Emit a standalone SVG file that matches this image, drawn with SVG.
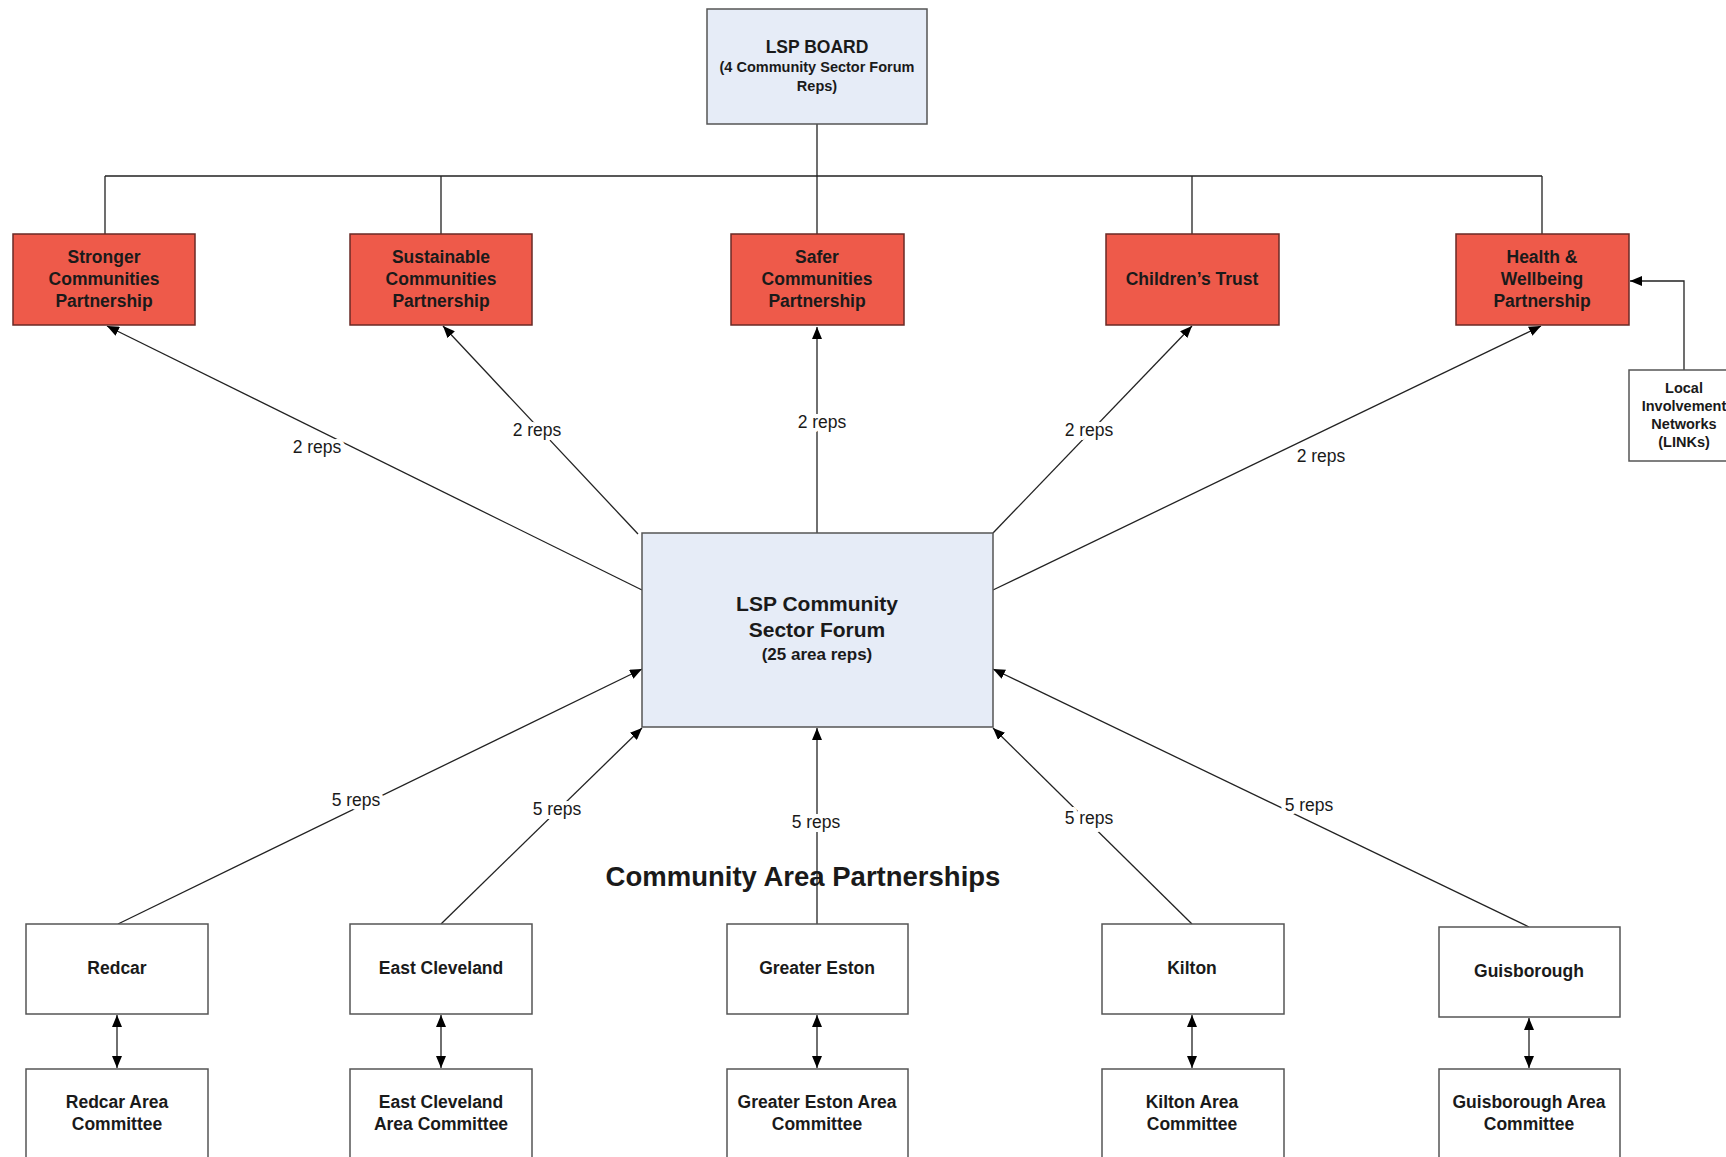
<svg xmlns="http://www.w3.org/2000/svg" width="1726" height="1157" viewBox="0 0 1726 1157">
<style>
.box{stroke:#555;stroke-width:1.5}
.blue{fill:#E6ECF7}
.red{fill:#EE5A4A;stroke:#6a2a26}
.white{fill:#fff}
text{font-family:"Liberation Sans",Arial,sans-serif;fill:#1a1a1a;text-anchor:middle}
.b{font-weight:bold;font-size:17.5px}
.s{font-weight:bold;font-size:14.5px}
.lbl{font-size:17.5px;stroke:#fff;stroke-width:8px;paint-order:stroke;stroke-linejoin:round}
.ln{stroke:#222;stroke-width:1.3;fill:none}
.arr{marker-end:url(#ah)}
.dbl{marker-end:url(#ah);marker-start:url(#ahs)}
</style>
<defs>
<marker id="ah" viewBox="0 0 12 10" refX="12" refY="5" markerWidth="12" markerHeight="10" markerUnits="userSpaceOnUse" orient="auto"><path d="M0,0 L12,5 L0,10 z" fill="#000"/></marker>
<marker id="ahs" viewBox="0 0 12 10" refX="0" refY="5" markerWidth="12" markerHeight="10" markerUnits="userSpaceOnUse" orient="auto"><path d="M12,0 L0,5 L12,10 z" fill="#000"/></marker>
</defs>
<rect width="1726" height="1157" fill="#fff"/>

<g id="connectors">
<!-- hierarchy bus -->
<path class="ln" d="M817,124 V176 M105,176 H1542 M105,176 V234 M441,176 V234 M817,176 V234 M1192,176 V234 M1542,176 V234"/>
<!-- LINKs to Health -->
<path class="ln arr" d="M1684,370 V281 H1630"/>
<!-- forum to top -->
<line class="ln arr" x1="642" y1="590" x2="107" y2="326"/>
<line class="ln arr" x1="638" y1="534" x2="443" y2="326"/>
<line class="ln arr" x1="817" y1="533" x2="817" y2="327"/>
<line class="ln arr" x1="993" y1="533" x2="1192" y2="326"/>
<line class="ln arr" x1="993" y1="590" x2="1541" y2="326"/>
<!-- bottom to forum -->
<line class="ln arr" x1="118" y1="924" x2="642" y2="669"/>
<line class="ln arr" x1="441" y1="924" x2="642" y2="728"/>
<line class="ln arr" x1="817" y1="924" x2="817" y2="728"/>
<line class="ln arr" x1="1192" y1="924" x2="993" y2="728"/>
<line class="ln arr" x1="1529" y1="927" x2="993" y2="669"/>
<!-- area to committee -->
<line class="ln dbl" x1="117" y1="1015" x2="117" y2="1068"/>
<line class="ln dbl" x1="441" y1="1015" x2="441" y2="1068"/>
<line class="ln dbl" x1="817" y1="1015" x2="817" y2="1068"/>
<line class="ln dbl" x1="1192" y1="1015" x2="1192" y2="1068"/>
<line class="ln dbl" x1="1529" y1="1018" x2="1529" y2="1068"/>
<!-- labels -->
<text class="lbl" x="317" y="453">2 reps</text>
<text class="lbl" x="537" y="436">2 reps</text>
<text class="lbl" x="822" y="428">2 reps</text>
<text class="lbl" x="1089" y="436">2 reps</text>
<text class="lbl" x="1321" y="462">2 reps</text>
<text class="lbl" x="356" y="806">5 reps</text>
<text class="lbl" x="557" y="815">5 reps</text>
<text class="lbl" x="816" y="828">5 reps</text>
<text class="lbl" x="1089" y="824">5 reps</text>
<text class="lbl" x="1309" y="811">5 reps</text>
</g>

<g id="lsp-board">
<rect class="box blue" x="707" y="9" width="220" height="115"/>
<text class="b" x="817" y="53">LSP BOARD</text>
<text class="s" x="817" y="72">(4 Community Sector Forum</text>
<text class="s" x="817" y="91">Reps)</text>
</g>

<g id="stronger">
<rect class="box red" x="13" y="234" width="182" height="91"/>
<text class="b" x="104" y="263">Stronger</text>
<text class="b" x="104" y="285">Communities</text>
<text class="b" x="104" y="307">Partnership</text>
</g>
<g id="sustainable">
<rect class="box red" x="350" y="234" width="182" height="91"/>
<text class="b" x="441" y="263">Sustainable</text>
<text class="b" x="441" y="285">Communities</text>
<text class="b" x="441" y="307">Partnership</text>
</g>
<g id="safer">
<rect class="box red" x="731" y="234" width="173" height="91"/>
<text class="b" x="817" y="263">Safer</text>
<text class="b" x="817" y="285">Communities</text>
<text class="b" x="817" y="307">Partnership</text>
</g>
<g id="childrens">
<rect class="box red" x="1106" y="234" width="173" height="91"/>
<text class="b" x="1192" y="285">Children’s Trust</text>
</g>
<g id="health">
<rect class="box red" x="1456" y="234" width="173" height="91"/>
<text class="b" x="1542" y="263">Health &amp;</text>
<text class="b" x="1542" y="285">Wellbeing</text>
<text class="b" x="1542" y="307">Partnership</text>
</g>
<g id="links">
<rect class="box white" x="1629" y="370" width="112" height="91"/>
<text class="s" x="1684" y="393">Local</text>
<text class="s" x="1684" y="411">Involvement</text>
<text class="s" x="1684" y="429">Networks</text>
<text class="s" x="1684" y="447">(LINKs)</text>
</g>

<g id="forum">
<rect class="box blue" x="642" y="533" width="351" height="194"/>
<text x="817" y="611" style="font-weight:bold;font-size:21px">LSP Community</text>
<text x="817" y="637" style="font-weight:bold;font-size:21px">Sector Forum</text>
<text x="817" y="660" style="font-weight:bold;font-size:17px">(25 area reps)</text>
</g>

<g id="title">
<text x="803" y="886" style="font-weight:bold;font-size:27.5px">Community Area Partnerships</text>
</g>

<g id="redcar">
<rect class="box white" x="26" y="924" width="182" height="90"/>
<text class="b" x="117" y="974">Redcar</text>
</g>
<g id="east-cleveland">
<rect class="box white" x="350" y="924" width="182" height="90"/>
<text class="b" x="441" y="974">East Cleveland</text>
</g>
<g id="greater-eston">
<rect class="box white" x="727" y="924" width="181" height="90"/>
<text class="b" x="817" y="974">Greater Eston</text>
</g>
<g id="kilton">
<rect class="box white" x="1102" y="924" width="182" height="90"/>
<text class="b" x="1192" y="974">Kilton</text>
</g>
<g id="guisborough">
<rect class="box white" x="1439" y="927" width="181" height="90"/>
<text class="b" x="1529" y="977">Guisborough</text>
</g>

<g id="redcar-committee">
<rect class="box white" x="26" y="1069" width="182" height="100"/>
<text class="b" x="117" y="1108">Redcar Area</text>
<text class="b" x="117" y="1130">Committee</text>
</g>
<g id="east-cleveland-committee">
<rect class="box white" x="350" y="1069" width="182" height="100"/>
<text class="b" x="441" y="1108">East Cleveland</text>
<text class="b" x="441" y="1130">Area Committee</text>
</g>
<g id="greater-eston-committee">
<rect class="box white" x="727" y="1069" width="181" height="100"/>
<text class="b" x="817" y="1108">Greater Eston Area</text>
<text class="b" x="817" y="1130">Committee</text>
</g>
<g id="kilton-committee">
<rect class="box white" x="1102" y="1069" width="182" height="100"/>
<text class="b" x="1192" y="1108">Kilton Area</text>
<text class="b" x="1192" y="1130">Committee</text>
</g>
<g id="guisborough-committee">
<rect class="box white" x="1439" y="1069" width="181" height="100"/>
<text class="b" x="1529" y="1108">Guisborough Area</text>
<text class="b" x="1529" y="1130">Committee</text>
</g>
</svg>
